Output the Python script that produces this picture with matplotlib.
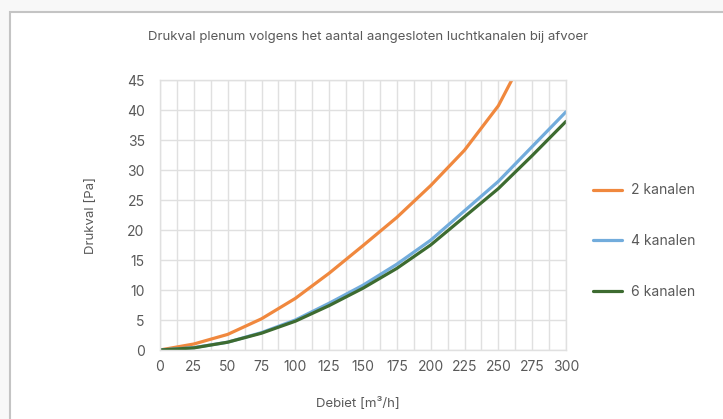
import matplotlib
matplotlib.use("Agg")
import matplotlib.pyplot as plt
from matplotlib.patches import Rectangle
from matplotlib.ticker import MultipleLocator

plt.rcParams['font.family'] = ['Inter', 'DejaVu Sans']

debiet = [0, 25, 50, 75, 100, 125, 150, 175, 200, 225, 250, 275, 300]
kanalen_2 = [0, 1.0, 2.6, 5.2, 8.6, 12.8, 17.4, 22.1, 27.4, 33.3, 40.7, 51.5, 63.5]
kanalen_4 = [0, 0.4, 1.3, 2.9, 5.0, 7.8, 10.8, 14.3, 18.3, 23.2, 28.1, 33.9, 39.7]
kanalen_6 = [0, 0.35, 1.3, 2.8, 4.8, 7.4, 10.3, 13.6, 17.5, 22.2, 26.9, 32.4, 38.1]
series_labels = ['2 kanalen', '4 kanalen', '6 kanalen']
colors = ['#F0883E', '#72ACDC', '#3D6B30']

W, H = 723, 419
fig = plt.figure(figsize=(W / 100, H / 100), dpi=100)
fig.patch.set_facecolor('#F8F8F8')
panel = Rectangle((9.5 / W, -1), 2, 2 - 12.5 / H, transform=fig.transFigure,
                  facecolor='white', edgecolor='#C4C4C4', linewidth=1.5, zorder=-10)
fig.add_artist(panel)

ax = fig.add_axes([160 / W, (H - 350) / H, (566 - 160) / W, (350 - 80) / H])
ax.set_zorder(1)
ax.set_facecolor('white')
for vals, lab, c in zip([kanalen_2, kanalen_4, kanalen_6], series_labels, colors):
    ax.plot(debiet, vals, color=c, lw=2.3, label=lab, solid_capstyle='round', clip_on=True)

ax.set_xlim(0, 300)
ax.set_ylim(0, 45)
ax.xaxis.set_major_locator(MultipleLocator(25))
ax.xaxis.set_minor_locator(MultipleLocator(12.5))
ax.yaxis.set_major_locator(MultipleLocator(5))
ax.grid(which='both', axis='x', color='#E0E0E0', lw=1.0)
ax.grid(which='major', axis='y', color='#E0E0E0', lw=1.0)
ax.set_axisbelow(True)
for s in ax.spines.values():
    s.set_color('#E0E0E0')
    s.set_linewidth(1.0)
ax.tick_params(which='both', length=0, labelsize=10, labelcolor='#595959')
ax.tick_params(axis='x', pad=7)
ax.tick_params(axis='y', pad=11)

fig.text(368 / W, 1 - 37 / H, 'Drukval plenum volgens het aantal aangesloten luchtkanalen bij afvoer',
         ha='center', va='center', fontsize=9.5, color='#595959')
fig.text(91 / W, 1 - 215 / H, 'Drukval [Pa]', rotation=90, ha='center', va='center',
         fontsize=9.5, color='#595959')
fig.text(358 / W, 1 - 403 / H, 'Debiet [m³/h]', ha='center', va='center',
         fontsize=9.5, color='#595959')

ax.legend(loc='upper left', bbox_to_anchor=(580 / W, 1 - 171 / H), bbox_transform=fig.transFigure,
          frameon=False, fontsize=10, labelcolor='#595959', handlelength=2.1,
          labelspacing=2.65, handletextpad=0.7)

fig.savefig('out.png', dpi=100, facecolor=fig.get_facecolor())
